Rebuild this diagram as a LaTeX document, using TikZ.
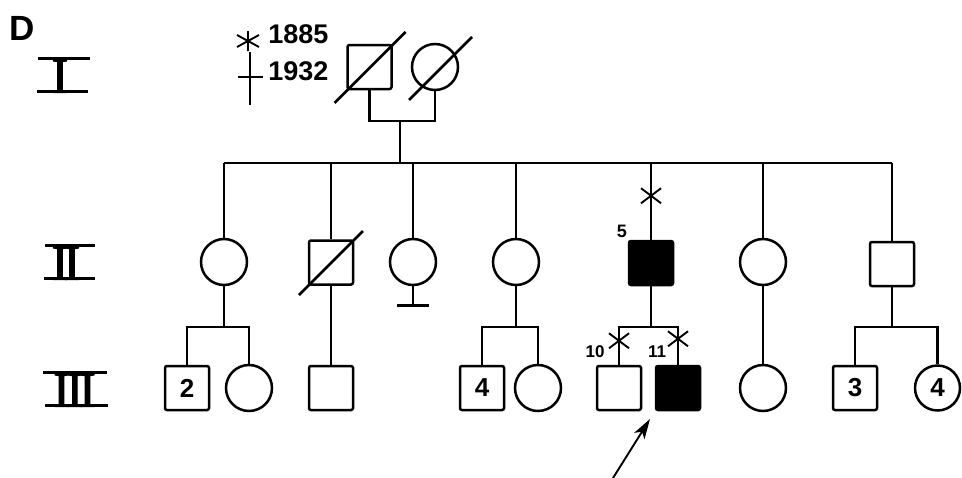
\documentclass[tikz,border=0pt]{standalone}
\usepackage{fontspec}
\setmainfont{Liberation Sans}
\newfontfamily\romfont[FakeBold=2]{Liberation Serif}
\usetikzlibrary{calc,arrows.meta}
\tikzset{
  astx/.pic={\draw[line width=1.9pt] (-10,-7.5) -- (10,7.5) (-10,7.5) -- (10,-7.5);}
}
\begin{document}
\begin{tikzpicture}[x=1pt,y=-1pt,line width=2.5pt,
  male/.style={draw,rectangle,rounded corners=2pt,minimum size=44pt,inner sep=0pt,font=\fontsize{26}{26}\selectfont\bfseries},
  female/.style={draw,circle,minimum size=46pt,inner sep=0pt,font=\fontsize{26}{26}\selectfont\bfseries},
  aff/.style={fill=black},
  lbl/.style={font=\fontsize{17}{17}\selectfont\bfseries,inner sep=0pt},
  big/.style={font=\fontsize{27}{27}\selectfont\bfseries,inner sep=0pt,anchor=base west},
  gen/.style={font=\fontsize{50}{50}\romfont,inner sep=0pt,anchor=base},
  genbar/.style={line width=3pt},
  thinline/.style={line width=1.9pt}
]
\useasboundingbox (0,0) rectangle (962,477);
\fill[white] (0,0) rectangle (962,477);

% heading and generation labels
\node[font=\fontsize{35}{35}\selectfont\bfseries,anchor=base west,inner sep=0pt] (D) at (8,40) {D};
\node[gen] (gI) at (60,92.5) {I};
\draw[genbar] (38,58) -- (90,58) (37,91) -- (88,91);
\node[gen] (gII) at (66,279.5) {I\kern-4.6pt I};
\draw[genbar] (45,245) -- (95,245) (44,278) -- (95,278);
\node[gen] (gIII) at (74.5,406.5) {I\kern-3.4pt I\kern-4pt I};
\draw[genbar] (43,372) -- (107,372) (45,405) -- (108,405);

% birth / death
\draw[thinline] (248,31) -- (248,51) (237,35) -- (259,47) (237,47) -- (259,35);
\node[big] (t1885) at (267,43) {1885};
\draw[thinline] (250,52) -- (250,105) (238,77) -- (263,77);
\node[big] (t1932) at (267,80) {1932};

% generation I
\node[male] (I1) at (369.5,67) {};
\node[female] (I2) at (435,67) {};
\draw ($(I1.center)+(-35,36)$) -- ($(I1.center)+(36,-35)$);
\draw ($(I2.center)+(-26,33)$) -- ($(I2.center)+(37,-30)$);
\coordinate (m1) at (400,121);
\coordinate (sib) at (400,163);
\draw (I1.south) |- (m1) -| (I2.south);
\draw (m1) -- (sib);

% generation II
\node[female] (II1) at (224,262) {};
\node[male] (II2) at (331,262.5) {};
\node[female] (II3) at (413,262) {};
\node[female] (II4) at (516,262) {};
\node[male,aff] (II5) at (651,263) {};
\node[female] (II6) at (763,262) {};
\node[male] (II7) at (892,264) {};
\draw (II1.north |- sib) -- (II7.north |- sib);
\foreach \n in {II1,II2,II3,II4,II5,II6,II7}
  \draw (\n.north) -- (\n.north |- sib);
\draw ($(II2.center)+(-32,32.5)$) -- ($(II2.center)+(32,-31.5)$);
\draw (II3.south) -- ++(0,19) coordinate (ii3end);
\draw ($(ii3end)+(-16,0)$) -- ($(ii3end)+(16,0)$);
\pic at ($(II5.north)+(0,-44)$) {astx};
\node[lbl,font=\fontsize{18}{18}\selectfont\bfseries] (n5) at (622,231) {5};

% generation III
\coordinate (s3) at (0,327);
\node[male] (III1) at (187,388) {2};
\node[female] (III2) at (249,388) {};
\node[male] (III3) at (331,388) {};
\node[male] (III4) at (482,388) {4};
\node[female] (III5) at (538,388) {};
\node[male] (III6) at (619,388) {};
\node[male,aff] (III7) at (678,388) {};
\node[female] (III8) at (763,388) {};
\node[male] (III9) at (855,388) {3};
\node[female,minimum size=45pt] (III10) at (937.5,388) {4};

\draw (II1.south) -- (II1.south |- s3);
\draw (III1.north) |- (s3 -| III2.north) -- (III2.north);
\draw (II2.south) -- (III3.north);
\draw (II4.south) -- (II4.south |- s3);
\draw (III4.north) |- (s3 -| III5.north) -- (III5.north);
\draw (II5.south) -- (II5.south |- s3);
\draw (III6.north) |- (s3 -| III7.north) -- (III7.north);
\draw (II6.south) -- (III8.north);
\draw (II7.south) -- (II7.south |- s3);
\draw (III9.north) |- (s3 -| III10.north) -- (III10.north);

\pic at ($(III6.north)+(0,-24)$) {astx};
\pic at ($(III7.north)+(0,-26)$) {astx};
\node[lbl] (n10) at (595,352) {10};
\node[lbl] (n11) at (657,352) {11};

% proband arrow
\coordinate (atail) at (613,478);
\coordinate (ahead) at (650,419);
\draw[thinline,-{Stealth[length=20pt,width=12pt,inset=5pt]}] (atail) -- (ahead);
\end{tikzpicture}
\end{document}
